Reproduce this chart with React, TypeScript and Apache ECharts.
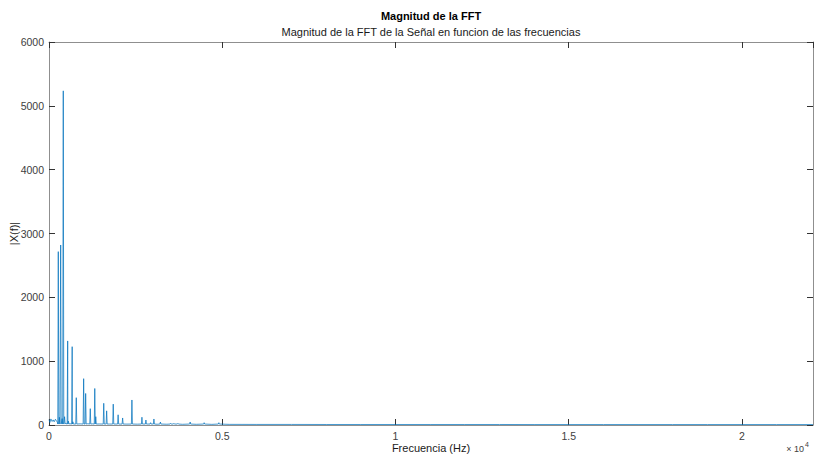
import React, { useEffect, useRef } from "react";
import * as echarts from "echarts";

// Dominant spectral peaks (Hz, |X(f)|)
const spikeHz = [268, 300, 337, 380, 412, 450, 539, 560, 669, 690, 787, 1000, 1058, 1191, 1321, 1350, 1580, 1664, 1854, 1995, 2125, 2393, 2682, 2797, 2933, 3028, 3215, 3509, 3604, 3720, 4074, 4478, 4902];
const spikeMag = [2716, 120, 2820, 100, 5235, 130, 1317, 60, 1227, 50, 428, 726, 494, 256, 572, 130, 340, 222, 327, 160, 110, 392, 122, 78, 36, 94, 47, 26, 25, 25, 47, 36, 36];

// Noise floor of the spectrum
const floorHz = [0, 25, 55, 90, 120, 150, 185, 215, 240, 480, 600, 720, 900, 1120, 1250, 1450, 1750, 2050, 2250, 2550, 3120, 3400, 3850, 4250, 4700, 5200, 6000, 7000, 8000, 9000, 10000, 11000, 12000, 13000, 14000, 15000, 16000, 17000, 18000, 19000, 20000, 21000, 22050];
const floorMag = [85, 40, 95, 55, 80, 50, 90, 65, 45, 25, 20, 22, 18, 20, 18, 16, 15, 14, 14, 13, 12, 12, 11, 11, 10, 10, 9, 9, 8, 8, 8, 8, 8, 8, 7, 7, 7, 7, 7, 7, 7, 7, 7];

// Spacing of neighbouring FFT bins and their level at the foot of a peak
const binHz = 15;
const footMag = 15;

const xTicks = [0, 5000, 10000, 15000, 20000];
const fs = 44100;

const FONT = "'Liberation Sans', Arial, Helvetica, sans-serif";

function buildSpectrum(): [number, number][] {
  const pts: [number, number][] = floorHz.map((f, i) => [f, floorMag[i]]);
  spikeHz.forEach((f, i) => {
    pts.push([f - binHz, footMag]);
    pts.push([f, spikeMag[i]]);
    pts.push([f + binHz, footMag]);
  });
  pts.sort((a, b) => a[0] - b[0]);
  return pts;
}

const axisLineColor = "#8f8f8f";
const textColor = "#404040";

function axisLine() {
  return { show: true, onZero: false, lineStyle: { color: axisLineColor, width: 1 } };
}

// Ticks point into the plot box on all four sides
function tick() {
  return { show: true, inside: true, length: 6, lineStyle: { color: "#333333", width: 1 } };
}

export default function App() {
  const ref = useRef<HTMLDivElement>(null);

  useEffect(() => {
    if (!ref.current) return;
    const chart = echarts.init(ref.current, null, { renderer: "svg" });

    chart.setOption({
      animation: false,
      backgroundColor: "#ffffff",
      grid: { left: 49, top: 42, right: 1, bottom: 29, containLabel: false, outerBoundsMode: "none" },
      graphic: [
        {
          type: "text",
          x: 431,
          y: 16,
          style: {
            text: "Magnitud de la FFT",
            fill: "#000",
            font: `bold 11px ${FONT}`,
            align: "center",
            verticalAlign: "middle",
          },
        },
        {
          type: "text",
          x: 431,
          y: 32,
          style: {
            text: "Magnitud de la FFT de la Señal en funcion de las frecuencias",
            fill: "#1a1a1a",
            font: `11px ${FONT}`,
            align: "center",
            verticalAlign: "middle",
          },
        },
        {
          type: "text",
          x: 804,
          y: 449,
          style: {
            text: "× 10",
            fill: textColor,
            font: `9px ${FONT}`,
            align: "right",
            verticalAlign: "middle",
          },
        },
        {
          type: "text",
          x: 805,
          y: 444,
          style: {
            text: "4",
            fill: textColor,
            font: `7px ${FONT}`,
            align: "left",
            verticalAlign: "middle",
          },
        },
      ],
      xAxis: [
        {
          type: "value",
          position: "bottom",
          min: 0,
          max: fs / 2,
          interval: 5000,
          name: "Frecuencia (Hz)",
          nameLocation: "middle",
          nameGap: 17,
          nameMoveOverlap: false,
          nameTextStyle: { color: "#1a1a1a", fontSize: 11, fontFamily: FONT },
          axisLine: axisLine(),
          axisTick: tick(),
          splitLine: { show: false },
          axisLabel: {
            show: true,
            margin: 5,
            color: textColor,
            fontSize: 10.5,
            fontFamily: FONT,
            showMaxLabel: false,
            formatter: (v: number) => (xTicks.includes(v) ? String(v / 10000) : ""),
          },
        },
        {
          type: "value",
          position: "top",
          min: 0,
          max: fs / 2,
          interval: 5000,
          axisLine: axisLine(),
          axisTick: tick(),
          axisLabel: { show: false },
          splitLine: { show: false },
        },
      ],
      yAxis: [
        {
          type: "value",
          position: "left",
          min: 0,
          max: 6000,
          interval: 1000,
          name: "|X(f)|",
          nameLocation: "middle",
          nameGap: 30,
          nameMoveOverlap: false,
          nameTextStyle: { color: "#1a1a1a", fontSize: 11, fontFamily: FONT },
          axisLine: axisLine(),
          axisTick: tick(),
          splitLine: { show: false },
          axisLabel: {
            margin: 5,
            color: textColor,
            fontSize: 10.5,
            fontFamily: FONT,
            formatter: (v: number) => String(v),
          },
        },
        {
          type: "value",
          position: "right",
          min: 0,
          max: 6000,
          interval: 1000,
          axisLine: axisLine(),
          axisTick: tick(),
          axisLabel: { show: false },
          splitLine: { show: false },
        },
      ],
      series: [
        {
          type: "line",
          xAxisIndex: 0,
          yAxisIndex: 0,
          data: buildSpectrum(),
          showSymbol: false,
          symbol: "none",
          lineStyle: { color: "#0072BD", width: 1, opacity: 0.72 },
          emphasis: { disabled: true },
          silent: true,
        },
      ],
    });

    return () => chart.dispose();
  }, []);

  return (
    <div
      ref={ref}
      style={{ position: "fixed", left: 0, top: 0, width: 814, height: 454, background: "#fff" }}
    />
  );
}
